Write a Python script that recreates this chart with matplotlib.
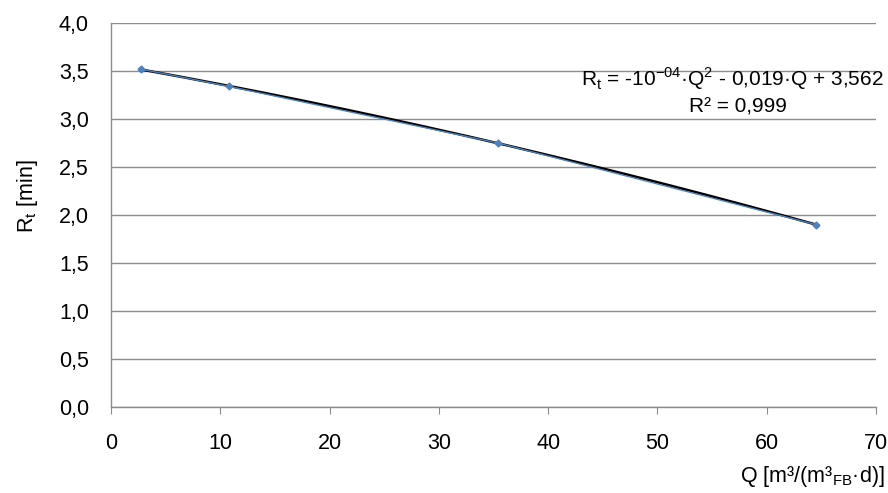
import numpy as np
import matplotlib.pyplot as plt

plt.rcParams['font.family'] = ['Liberation Sans', 'DejaVu Sans']
plt.rcParams['axes.unicode_minus'] = False

q = [2.7, 10.8, 35.4, 64.5]
rt = [3.52, 3.34, 2.75, 1.90]
xticks = [0, 10, 20, 30, 40, 50, 60, 70]
yticks = [0.0, 0.5, 1.0, 1.5, 2.0, 2.5, 3.0, 3.5, 4.0]

fs = 15.5
fig = plt.figure(figsize=(8.88, 4.93), dpi=100)
ax = fig.add_axes([0.125, 0.1744, 0.8615, 0.7789])

coef = np.polyfit(q, rt, 2)
qq = np.linspace(min(q), max(q), 200)
ax.plot(qq, np.polyval(coef, qq), color='black', lw=1.8, zorder=3)
ax.plot(q, rt, color='#4F81BD', lw=1.0, marker='D', ms=3.5, zorder=4)

ax.set_xlim(0, 70)
ax.set_ylim(0, 4)
ax.set_xticks(xticks)
ax.set_yticks(yticks)
ax.set_yticklabels([f"{v:.1f}".replace('.', ',') for v in yticks])
ax.grid(axis='y', color='#8c8c8c', lw=1.0)
ax.set_axisbelow(True)
for s in ['top', 'right']:
    ax.spines[s].set_visible(False)
for s in ['left', 'bottom']:
    ax.spines[s].set_color('#8c8c8c')
    ax.spines[s].set_linewidth(1.0)
ax.tick_params(axis='y', length=0, labelsize=fs, pad=16)
ax.tick_params(axis='x', length=5, color='#8c8c8c', labelsize=fs, pad=14)

ax.set_ylabel('R$_\\mathregular{t}$ [min]', fontsize=fs)
ax.yaxis.set_label_coords(-0.093, 0.55)
fig.text(0.833, 0.022, 'Q [m³/(m³$_\\mathregular{FB}$·d)]', ha='left', va='baseline', fontsize=fs)

fig.text(0.9955, 0.84, 'R$_\\mathregular{t}$ = -10$^\\mathregular{-04}$·Q$^\\mathregular{2}$ - 0,019·Q + 3,562',
         ha='right', va='center', fontsize=15)
fig.text(0.886, 0.782, 'R² = 0,999', ha='right', va='center', fontsize=15)

fig.savefig('out.png', dpi=100)
